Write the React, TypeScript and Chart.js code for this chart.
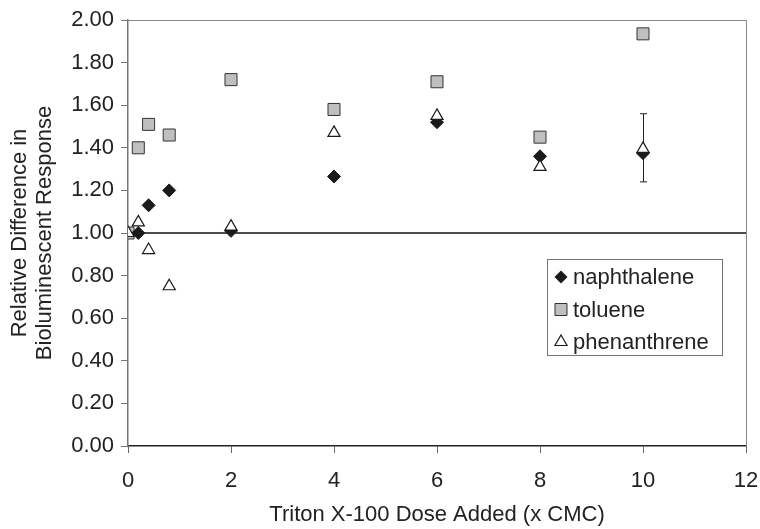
import React, { useEffect, useRef } from "react";
import { Chart, registerables } from "chart.js";

Chart.register(...registerables);

const doseX = [0, 0.2, 0.4, 0.8, 2, 4, 6, 8, 10];
const naphthaleneX = [0.2, 0.4, 0.8, 2, 4, 6, 8, 10];
const naphthaleneY = [1.0, 1.13, 1.2, 1.01, 1.265, 1.52, 1.36, 1.375];
const tolueneY = [1.0, 1.4, 1.51, 1.46, 1.72, 1.58, 1.71, 1.45, 1.935];
const phenanthreneY = [1.0, 1.05, 0.92, 0.75, 1.03, 1.47, 1.55, 1.31, 1.395];
const phenErrX = [10];
const phenErrLow = [1.24];
const phenErrHigh = [1.56];
const refLineX = [0, 12];
const refLineY = [1, 1];
const seriesNames = ["naphthalene", "toluene", "phenanthrene"];
const yTitle = ["Relative Difference in", "Bioluminescent Response"];
const xTitle = "Triton X-100 Dose Added (x CMC)";

const FONT = "'Liberation Sans', Arial, sans-serif";
const TEXT = "#222";

function drawMarker(ctx: CanvasRenderingContext2D, kind: number, x: number, y: number) {
  ctx.save();
  ctx.beginPath();
  if (kind === 0) {
    const r = 6.5;
    ctx.moveTo(x - r, y);
    ctx.lineTo(x, y - r);
    ctx.lineTo(x + r, y);
    ctx.lineTo(x, y + r);
    ctx.closePath();
    ctx.fillStyle = "#1a1a1a";
    ctx.fill();
  } else if (kind === 1) {
    const s = 6;
    ctx.rect(x - s, y - s, 2 * s, 2 * s);
    ctx.fillStyle = "#bfbfbf";
    ctx.fill();
    ctx.strokeStyle = "#333";
    ctx.lineWidth = 1;
    ctx.stroke();
  } else {
    const r = 7;
    ctx.moveTo(x, y - r);
    ctx.lineTo(x + r * 0.866, y + r / 2);
    ctx.lineTo(x - r * 0.866, y + r / 2);
    ctx.closePath();
    ctx.fillStyle = "#fff";
    ctx.fill();
    ctx.strokeStyle = "#1a1a1a";
    ctx.lineWidth = 1.2;
    ctx.stroke();
  }
  ctx.restore();
}

const decorPlugin = {
  id: "decor",
  beforeDatasetsDraw(chart: any) {
    const { ctx, chartArea, scales } = chart;
    ctx.save();
    // plot border top and right
    ctx.strokeStyle = "#888";
    ctx.lineWidth = 1;
    ctx.beginPath();
    ctx.moveTo(chartArea.left, chartArea.top + 0.5);
    ctx.lineTo(chartArea.right + 0.5, chartArea.top + 0.5);
    ctx.lineTo(chartArea.right + 0.5, chartArea.bottom);
    ctx.stroke();
    // error bars
    ctx.strokeStyle = "#222";
    ctx.lineWidth = 1;
    for (let i = 0; i < phenErrX.length; i++) {
      const x = Math.round(scales.x.getPixelForValue(phenErrX[i])) + 0.5;
      const y1 = scales.y.getPixelForValue(phenErrLow[i]);
      const y2 = scales.y.getPixelForValue(phenErrHigh[i]);
      ctx.beginPath();
      ctx.moveTo(x, y1);
      ctx.lineTo(x, y2);
      ctx.moveTo(x - 3.5, y1);
      ctx.lineTo(x + 3.5, y1);
      ctx.moveTo(x - 3.5, y2);
      ctx.lineTo(x + 3.5, y2);
      ctx.stroke();
    }
    ctx.restore();
  },
  afterDraw(chart: any) {
    const { ctx } = chart;
    ctx.save();
    const bx = 547.5, by = 259.5, bw = 175, bh = 96;
    ctx.fillStyle = "#fff";
    ctx.fillRect(bx, by, bw, bh);
    ctx.strokeStyle = "#777";
    ctx.lineWidth = 1;
    ctx.strokeRect(bx, by, bw, bh);
    const rows = [277, 309.5, 342];
    ctx.font = `22px ${FONT}`;
    ctx.fillStyle = TEXT;
    ctx.textBaseline = "middle";
    ctx.textAlign = "left";
    for (let i = 0; i < seriesNames.length; i++) {
      drawMarker(ctx, i, 561, rows[i]);
      ctx.fillStyle = TEXT;
      ctx.fillText(seriesNames[i], 573, rows[i] + 1);
    }
    ctx.restore();
  },
};

export default function App() {
  const ref = useRef<HTMLCanvasElement | null>(null);
  useEffect(() => {
    if (!ref.current) return;
    const chart = new Chart(ref.current, {
      type: "scatter",
      data: {
        datasets: [
          {
            label: seriesNames[0],
            data: naphthaleneX.map((x, i) => ({ x, y: naphthaleneY[i] })),
            pointStyle: "rectRot",
            pointRadius: 6.5,
            backgroundColor: "#1a1a1a",
            borderColor: "#1a1a1a",
            borderWidth: 1,
            order: 2,
          },
          {
            label: seriesNames[1],
            data: doseX.map((x, i) => ({ x, y: tolueneY[i] })),
            pointStyle: "rect",
            pointRadius: 8.5,
            backgroundColor: "#bfbfbf",
            borderColor: "#333",
            borderWidth: 1,
            order: 3,
          },
          {
            label: seriesNames[2],
            data: doseX.map((x, i) => ({ x, y: phenanthreneY[i] })),
            pointStyle: "triangle",
            pointRadius: 7,
            backgroundColor: "#ffffff",
            borderColor: "#1a1a1a",
            borderWidth: 1.2,
            order: 1,
          },
          {
            label: "ref",
            type: "line",
            data: refLineX.map((x, i) => ({ x, y: refLineY[i] })),
            borderColor: "#111",
            borderWidth: 1.5,
            pointRadius: 0,
            showLine: true,
            order: 10,
          } as any,
        ],
      },
      options: {
        animation: false,
        responsive: false,
        devicePixelRatio: 1,
        layout: { padding: { top: 20, right: 14, left: 0, bottom: 0 } },
        plugins: {
          legend: { display: false },
          tooltip: { enabled: false },
        },
        scales: {
          x: {
            type: "linear",
            min: 0,
            max: 12,
            ticks: {
              stepSize: 2,
              color: TEXT,
              padding: 15,
              font: { family: FONT, size: 22 },
            },
            grid: { drawOnChartArea: false, drawTicks: true, tickLength: 7, color: "#666" },
            border: { color: "#222", width: 1.5 },
            title: {
              display: true,
              text: xTitle,
              color: TEXT,
              font: { family: FONT, size: 22 },
              padding: { top: 0, bottom: 1 },
            },
            afterFit: (s: any) => {
              s.height = 83;
              s.paddingRight = 0;
              s.paddingLeft = 0;
            },
          },
          y: {
            type: "linear",
            min: 0,
            max: 2,
            ticks: {
              stepSize: 0.2,
              color: TEXT,
              padding: 7,
              font: { family: FONT, size: 22 },
              callback: (v: any) => Number(v).toFixed(2),
            },
            grid: { drawOnChartArea: false, drawTicks: true, tickLength: 7, color: "#777" },
            border: { color: "#777", width: 1.5 },
            title: {
              display: true,
              text: yTitle,
              color: TEXT,
              font: { family: FONT, size: 22, lineHeight: 1.14 },
              padding: { top: 7, bottom: 0 },
            },
            afterFit: (s: any) => {
              s.width = 128;
              s.paddingTop = 0;
              s.paddingBottom = 0;
            },
          },
        },
      },
      plugins: [decorPlugin],
    });
    return () => chart.destroy();
  }, []);
  return (
    <div style={{ position: "fixed", left: 0, top: 0, width: 760, height: 529, background: "#fff" }}>
      <canvas ref={ref} width={760} height={529} style={{ width: 760, height: 529 }} />
    </div>
  );
}
